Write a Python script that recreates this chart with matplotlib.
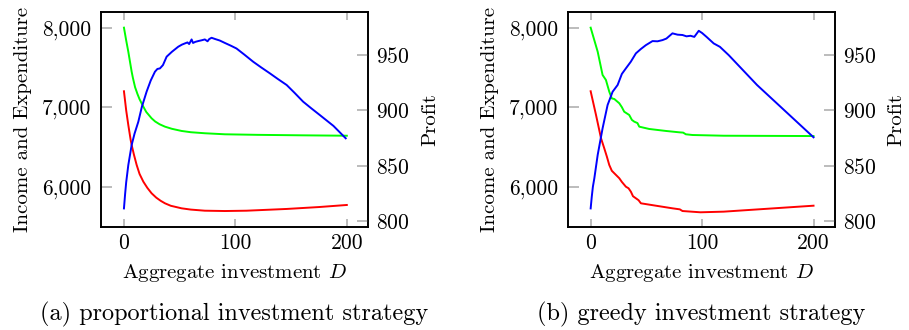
import matplotlib
matplotlib.use("Agg")
import matplotlib.pyplot as plt

plt.rcParams["font.family"] = "cmr10"
plt.rcParams["mathtext.fontset"] = "cm"
plt.rcParams["axes.formatter.use_mathtext"] = True

# (a) proportional investment strategy
a_income_x = [0, 2, 3.9, 6, 6.9, 8, 10, 11.4, 12, 14, 17.4, 20, 24.8, 28, 32, 36.8, 43,
              51.7, 60, 72.6, 90.6, 120, 160, 200]
a_income = [8000, 7840, 7698, 7522, 7447, 7370, 7250, 7195, 7170, 7100, 7006, 6940, 6860,
            6820, 6785, 6755, 6728, 6701, 6685, 6672, 6659, 6652, 6646, 6641]
a_cost_x = [0, 2, 3.9, 6, 6.9, 9, 11.4, 14, 17.4, 21, 24.8, 29, 33, 36.8, 42, 51.7, 60,
            72.6, 90.6, 110, 146, 175, 200]
a_cost = [7200, 6960, 6776, 6590, 6525, 6400, 6273, 6160, 6063, 5985, 5917, 5862, 5822,
          5791, 5760, 5728, 5712, 5698, 5694, 5698, 5720, 5744, 5770]
a_profit_x = [0, 1, 2, 3.9, 6.9, 9.5, 12.9, 16, 20.3, 24, 27.8, 30, 32.3, 35, 38.3, 43,
              48.7, 52, 54.7, 57, 58.5, 60.7, 62, 64, 66.6, 70, 72.6, 75, 76.5, 78.6, 82,
              86, 90.6, 96, 101, 108, 116, 123, 131, 138, 146, 153, 160.8, 168, 175.8,
              188, 199]
a_profit = [811.4, 824, 835, 850.6, 868.7, 879, 889.8, 903, 916.9, 927, 935, 937.5, 938,
            941, 948.6, 953, 957.6, 959.5, 960.6, 961.5, 960, 964.2, 961, 962, 962.7,
            963.5, 964.2, 962.5, 964.5, 965.7, 964.5, 963.2, 961, 958.5, 956, 950.5, 944,
            939, 933.5, 928.5, 923, 916, 907.9, 902, 895.8, 886, 874.8]

# (b) greedy investment strategy
b_income_x = [0, 6.3, 10.7, 13.7, 16.7, 19, 21.2, 25.7, 28, 30.1, 34.6, 37, 39.1, 42,
              43.6, 52.5, 67.5, 79.4, 83, 85.4, 91.4, 119.4, 200]
b_income = [8000, 7698, 7405, 7342, 7195, 7110, 7103, 7049, 7000, 6943, 6902, 6840, 6818,
            6800, 6755, 6726, 6701, 6684, 6680, 6659, 6650, 6641, 6637]
b_cost_x = [0, 4.8, 9.3, 12.2, 14.5, 16.7, 19, 21.2, 25.7, 28, 31.6, 34, 36.1, 38, 40.6,
            43, 45.1, 58.5, 73.4, 80, 82.4, 91.4, 98.5, 119.4, 200]
b_cost = [7200, 6902, 6609, 6483, 6380, 6273, 6200, 6169, 6106, 6060, 6000, 5980, 5937,
          5880, 5854, 5830, 5791, 5761, 5728, 5715, 5694, 5685, 5678, 5686, 5761]
b_profit_x = [0, 1, 2, 3.3, 6.3, 10.7, 15.2, 19.7, 24.2, 28, 31.6, 36, 40.6, 45, 49.5,
              55.5, 60, 64.5, 68, 73.4, 78, 82.4, 86, 89.6, 93, 97, 100, 104, 110.4, 116,
              123.9, 149.3, 200]
b_profit = [811.4, 822, 831, 838.6, 859.7, 883.8, 904.9, 916.9, 923, 933, 938, 944, 951.6,
            955.5, 959, 962.7, 962.5, 963.6, 965, 969.7, 968.5, 968.2, 967, 967.5, 966.5,
            972, 970, 966.5, 960.6, 957.5, 950, 923, 875.7]

panels = [
    (a_income_x, a_income, a_cost_x, a_cost, a_profit_x, a_profit,
     "(a) proportional investment strategy"),
    (b_income_x, b_income, b_cost_x, b_cost, b_profit_x, b_profit,
     "(b) greedy investment strategy"),
]
lefts = [101 / 909, 567.7 / 909]

fig = plt.figure(figsize=(9.09, 3.30), dpi=100)

for (ix, iy, cx, cy, px, py, caption), left in zip(panels, lefts):
    ax = fig.add_axes([left, 103 / 330, 267 / 909, 215 / 330])
    ax2 = ax.twinx()

    ax.plot(ix, iy, color="#00ff00", lw=1.4)
    ax.plot(cx, cy, color="#ff0000", lw=1.4)
    ax2.plot(px, py, color="#0000ff", lw=1.4)

    ax.set_xlim(-20.6, 219)
    ax.set_ylim(5493, 8197)
    ax2.set_ylim(794.6, 989)

    ax.set_xticks([0, 100, 200])
    ax.set_xticklabels(["0", "100", "200"])
    ax.set_yticks([6000, 7000, 8000])
    ax.set_yticklabels(["6,000", "7,000", "8,000"])
    ax2.set_yticks([800, 850, 900, 950])

    ax.tick_params(axis="x", direction="in", top=True, bottom=True, length=6,
                   color="#b0b0b0", width=1.2, labelsize=15.5, pad=5)
    ax.tick_params(axis="y", direction="in", left=True, right=False, length=8,
                   color="#b0b0b0", width=1.2, labelsize=15.5, pad=7)
    ax2.tick_params(axis="y", direction="in", right=True, left=False, length=8,
                    color="#b0b0b0", width=1.2, labelsize=15.5, pad=6)

    for a in (ax, ax2):
        for s in a.spines.values():
            s.set_linewidth(1.2)

    ax.set_ylabel("Income and Expenditure", fontsize=15, labelpad=7)
    ax2.set_ylabel("Profit", fontsize=15, labelpad=8)
    ax.set_xlabel("Aggregate investment $D$", fontsize=15, labelpad=6)

    fig.text(left + 267 / 909 / 2, 10 / 330, caption, ha="center", va="baseline",
             fontsize=17.5)

plt.savefig("out.png", format="png", dpi=100)
